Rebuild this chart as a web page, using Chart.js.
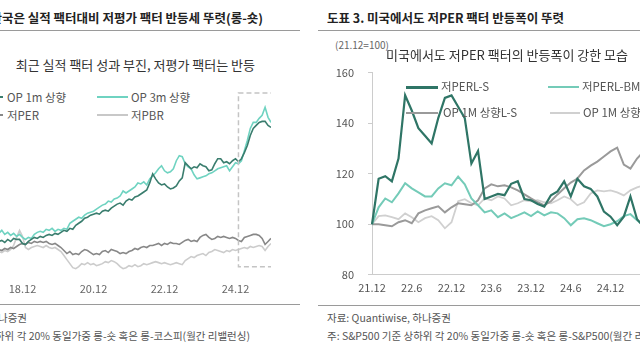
<!DOCTYPE html>
<html>
<head>
<meta charset="utf-8">
<script src="https://cdn.jsdelivr.net/npm/chart.js@4.4.1/dist/chart.umd.min.js"></script>
<style>
  body { margin: 0; width: 640px; height: 360px; overflow: hidden; background: #fff; position: relative;
         font-family: "Noto Sans CJK KR", "Noto Sans", sans-serif; }
  .t { position: absolute; white-space: nowrap; }
  .title { font-size: 12.5px; font-weight: bold; color: #222; line-height: 16px; }
  .sub { font-size: 13px; color: #333; line-height: 18px; }
  .lg { font-size: 11.5px; color: #555; line-height: 14px; }
  .ft { font-size: 10.5px; color: #555; line-height: 14px; }
  .rule { position: absolute; height: 1px; background: #9a9a9a; }
  .sw { position: absolute; height: 2px; }
  canvas { position: absolute; }
</style>
</head>
<body>

<!-- left panel texts -->
<div class="t title" style="right:377px;top:10px">도표 2. 한국은 실적 팩터대비 저평가 팩터 반등세 뚜렷(롱-숏)</div>
<div class="rule" style="left:0;width:300px;top:30px"></div>
<div class="t sub" style="right:385px;top:56px">최근 실적 팩터 성과 부진, 저평가 팩터는 반등</div>

<div class="sw" style="left:-30px;width:33px;top:96px;background:#3a7d6e"></div>
<div class="t lg" style="left:7px;top:90px">OP 1m 상향</div>
<div class="sw" style="left:97px;width:31px;top:96px;background:#6fd3c1"></div>
<div class="t lg" style="left:131px;top:90px">OP 3m 상향</div>
<div class="sw" style="left:-30px;width:33px;top:114px;background:#888"></div>
<div class="t lg" style="left:7px;top:108px">저PER</div>
<div class="sw" style="left:97px;width:31px;top:114px;background:#c8c8c8"></div>
<div class="t lg" style="left:131px;top:108px">저PBR</div>

<canvas id="leftChart" width="284" height="215" style="left:-13px;top:80px"></canvas>

<div class="rule" style="left:0;width:300px;top:304px"></div>
<div class="t ft" style="right:613px;top:311px">자료: Quantiwise, 하나증권</div>
<div class="t ft" style="right:390px;top:329px">주: 코스피 기준 상하위 각 20% 동일가중 롱-숏 혹은 롱-코스피(월간 리밸런싱)</div>

<!-- right panel texts -->
<div class="t title" style="left:327px;top:10px">도표 3. 미국에서도 저PER 팩터 반등폭이 뚜렷</div>
<div class="rule" style="left:318px;width:322px;top:30px"></div>

<canvas id="rightChart" width="331" height="248" style="left:336px;top:52px"></canvas>

<div class="t" style="left:335px;top:38px;font-size:10px;color:#666;line-height:14px">(21.12=100)</div>
<div class="t sub" style="left:386px;top:46px">미국에서도 저PER 팩터의 반등폭이 강한 모습</div>

<div class="sw" style="left:406px;width:32px;top:86px;height:2.5px;background:#2f7566"></div>
<div class="t lg" style="left:441px;top:79px">저PERL-S</div>
<div class="sw" style="left:548px;width:31px;top:86px;background:#74cbb8"></div>
<div class="t lg" style="left:582px;top:79px">저PERL-BM</div>
<div class="sw" style="left:406px;width:32px;top:112px;background:#9a9a9a"></div>
<div class="t lg" style="left:443px;top:105px">OP 1M 상향L-S</div>
<div class="sw" style="left:550px;width:30px;top:112px;height:1.5px;background:#d0d0d0"></div>
<div class="t lg" style="left:583px;top:105px">OP 1M 상향L-BM</div>

<div class="rule" style="left:318px;width:322px;top:305px"></div>
<div class="t ft" style="left:327px;top:311px">자료: Quantiwise, 하나증권</div>
<div class="t ft" style="left:327px;top:329px">주: S&amp;P500 기준 상하위 각 20% 동일가중 롱-숏 혹은 롱-S&amp;P500(월간 리밸런싱)</div>

<script>
// month labels 'YY.M'
function monthLabels(year, month, count) {
  const out = [];
  for (let i = 0; i < count; i++) {
    out.push(year + '.' + month);
    month++;
    if (month > 12) { month = 1; year++; }
  }
  return out;
}

// ---- left chart (Korea, long-short, cumulative) ----
const leftMonths = monthLabels(17, 12, 97); // 17.12 .. 25.12
const leftOp1m = [74,78,72,76,80, 82,78,84,80,86,84,84,76, 74,80,84,88,86,90,
  88,92,94,92,96,94,98, 102,100,106,104,112, 116,120,126,128,132,134,
  136,134,140,142,140,146, 150,154,156,152,160,164, 162,168,170,174,178,182,
  196,214,204,196,192,194, 188,184,186,190,200,206, 236,230,224,228,226,234,
  230,228,220,222,234,244, 244,236,238,234,240,244, 238,244,256,270,290,304,
  310,316,318,318,310,306];
const leftOp3m = [98,92,100,94,96, 102,94,98,92,96,90,94,88, 84,88,86,94,98,100,
  98,104,102,106,100,104,102, 106,104,116,120,124, 128,126,132,136,138,140,
  144,148,152,154,160,158, 164,166,170,180,176,180, 184,188,196,194,198,192,
  204,210,216,224,230,220, 216,218,224,240,250,248, 234,228,224,212,204,206,
  208,210,214,216,220,224, 226,228,230,220,228,236, 234,240,260,280,304,316,
  316,324,330,346,326,316];
const leftLowPer = [60,66,62,68,64, 62,66,64,68,66,70,74,76, 74,78,76,80,78,80,
  78,80,76,74,76,72,68, 62,56,60,54,56, 54,60,64,62,58,54,
  56,54,60,62,58,64, 62,60,56,58,56,60, 62,66,64,68,70,68,
  72,72,74,76,72,76, 74,78,76,76,74,78, 82,84,80,82,80,88,
  92,94,88,84,86,90, 88,90,88,86,88,86, 82,80,88,90,92,94,
  94,92,86,74,80,86];
const leftLowPbr = [56,60,54,58,60, 58,62,60,64,72,88,102,90, 68,64,68,70,72,70,
  68,72,68,66,68,64,60, 52,44,36,28,26, 30,36,34,38,34,36,
  32,34,36,40,38,42, 40,36,30,26,28,32, 30,34,30,32,36,34,
  36,38,40,38,36,38, 36,34,36,38,36,34, 42,46,50,48,52,54,
  56,52,58,60,64,62, 60,58,62,60,64,62, 64,66,68,66,70,68,
  70,72,70,62,70,76];
const leftTicks = ['18.12', '20.12', '22.12', '24.12'];
// highlighted recent period (dashed box)
const boxFrom = '25.1', boxExtraMonths = 2, boxLow = 30, boxHigh = 374;

// ---- right chart (US, 21.12 = 100) ----
const rightMonths = monthLabels(21, 12, 43); // 21.12 .. 25.6
const rightPerLS = [100,118,119,117,126,151,145,138,135,132,142,150,151,146.5,142,124,129,110,111,112,111.5,
  116,117,110,109.5,108,107,111.5,113,117,111,118,115,114,111,105,103,99.6,103,111,102,99];
const rightPerBM = [100,106.7,110.2,108.7,112.2,116.2,114.2,112.6,111,111,114.2,116.2,115.4,118.9,115.8,110.2,
  107.5,104.7,105.5,102.8,104.3,102.4,103.5,104.7,103.2,105.1,103.5,104.7,104.3,102.4,99.6,102,102.4,101.6,
  100.4,99.2,100,101.2,103.2,104,101.6,99.6];
const rightOpLS = [100,100,99.6,99.2,100.8,101.6,100.4,104.3,105.5,106.3,107.1,104.7,106.7,108.3,107.9,107.5,
  109.5,114.2,115.8,115,115.4,114.6,113.4,111.8,110.2,108.7,107.5,109.1,111.8,114.2,116.5,118.1,121.3,123.2,
  124.8,126.8,128.8,130.3,123.6,122,126,128.8];
const rightOpBM = [100,103.2,103.5,102.8,102,104.3,102.8,100.8,102.4,103.2,101.6,98.4,100.8,109.1,109.9,108.3,
  107.5,110.2,109.5,111,110.2,107.5,108.3,109.5,109.1,109.5,108.7,108.3,109.5,111,109.9,107.5,108.7,112.2,
  113.4,113,113.4,112.6,111.4,113.4,114.6,115.4];

Chart.defaults.font.family = '"Noto Sans CJK KR", "Noto Sans", sans-serif';
Chart.defaults.animation = false;

function line(data, color, width) {
  return { data: data, borderColor: color, borderWidth: width, pointRadius: 0, tension: 0, fill: false };
}

const dashedBox = {
  id: 'dashedBox',
  afterDatasetsDraw(chart) {
    const x = chart.scales.x, y = chart.scales.y, ctx = chart.ctx;
    const i0 = leftMonths.indexOf(boxFrom);
    const i1 = leftMonths.length - 1 + boxExtraMonths;
    const x0 = x.getPixelForValue(i0), x1 = x.getPixelForValue(i1);
    const y0 = y.getPixelForValue(boxHigh), y1 = y.getPixelForValue(boxLow);
    ctx.save();
    ctx.strokeStyle = '#c4c4c4';
    ctx.lineWidth = 1.5;
    ctx.setLineDash([5, 3]);
    ctx.strokeRect(x0, y0, x1 - x0, y1 - y0);
    ctx.restore();
  }
};

new Chart(document.getElementById('leftChart'), {
  type: 'line',
  data: {
    labels: leftMonths,
    datasets: [
      line(leftOp1m, '#3a7d6e', 1.6),
      line(leftOp3m, '#6fd3c1', 1.6),
      line(leftLowPer, '#888888', 1.6),
      line(leftLowPbr, '#cccccc', 1.6)
    ]
  },
  options: {
    responsive: false,
    devicePixelRatio: 1,
    layout: { padding: 0 },
    plugins: { legend: { display: false }, tooltip: { enabled: false } },
    scales: {
      x: {
        grid: { display: false, drawTicks: false },
        border: { display: false },
        ticks: {
          autoSkip: false, maxRotation: 0, padding: 0,
          font: { size: 11 }, color: '#666',
          callback(v) { const l = this.getLabelForValue(v); return leftTicks.includes(l) ? l : ''; }
        }
      },
      y: { display: false, min: 0, max: 400 }
    }
  },
  plugins: [dashedBox]
});

new Chart(document.getElementById('rightChart'), {
  type: 'line',
  data: {
    labels: rightMonths,
    datasets: [
      line(rightPerLS, '#2f7566', 2.2),
      line(rightPerBM, '#74cbb8', 2),
      line(rightOpLS, '#9a9a9a', 2),
      line(rightOpBM, '#d0d0d0', 1.8)
    ]
  },
  options: {
    responsive: false,
    devicePixelRatio: 1,
    layout: { padding: 0 },
    plugins: { legend: { display: false }, tooltip: { enabled: false } },
    scales: {
      x: {
        grid: { display: false, drawTicks: false },
        border: { display: true, color: '#cccccc' },
        ticks: {
          autoSkip: false, maxRotation: 0, padding: 6,
          font: { size: 11 }, color: '#555',
          callback(v) {
            const l = this.getLabelForValue(v);
            const m = l.split('.')[1];
            return (m === '6' || m === '12') ? l : '';
          }
        }
      },
      y: {
        min: 80, max: 160,
        afterFit(scale) { scale.width = 36; },
        grid: { drawOnChartArea: false, drawTicks: true, tickLength: 4, color: '#cccccc' },
        border: { display: true, color: '#cccccc' },
        ticks: { stepSize: 20, padding: 14, font: { size: 11 }, color: '#555' }
      }
    }
  }
});
</script>
</body>
</html>
